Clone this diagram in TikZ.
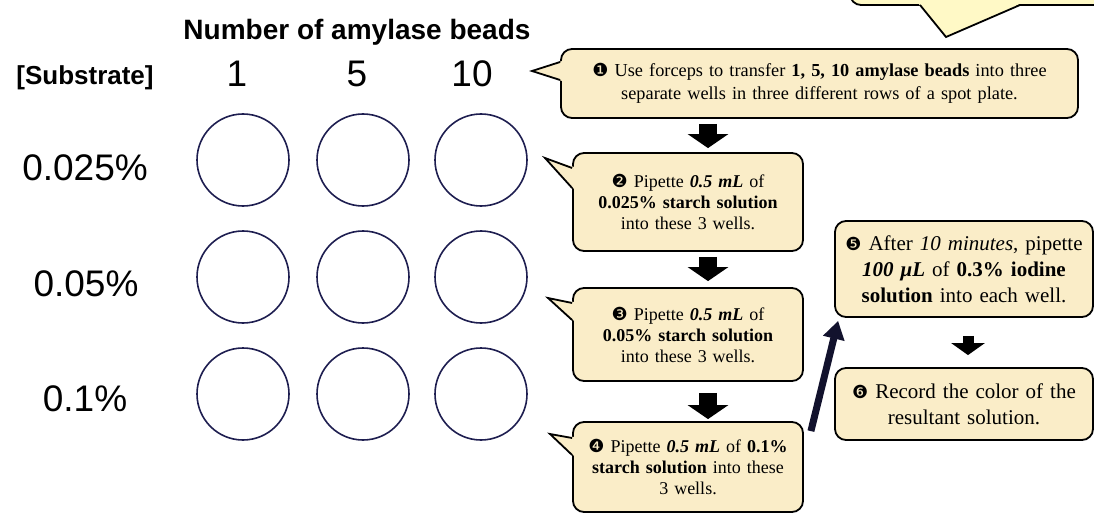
\documentclass[tikz,border=0pt]{standalone}
\usepackage{fontspec}
\setmainfont{Liberation Serif}
\newfontfamily\arialf{Liberation Sans}
\newfontfamily\djvfont{DejaVu Sans}
\usetikzlibrary{arrows.meta,calc}
\definecolor{boxfill}{RGB}{250,237,200}
\definecolor{topfill}{RGB}{255,249,198}
\definecolor{wellc}{RGB}{30,30,80}
\definecolor{navyarr}{RGB}{18,18,45}
\newcommand{\nb}[1]{{\djvfont\fontsize{18}{18}\selectfont #1}}
\tikzset{
  stepbox/.style={draw=black, line width=1.8pt, fill=boxfill, rounded corners=11pt, align=center, inner sep=0pt},
  tailline/.style={draw=black, line width=1.8pt, line join=miter},
  well/.style={circle, draw=wellc, line width=1.6pt, minimum size=92pt, inner sep=0pt},
  lbl/.style={font=\arialf\fontsize{37}{37}\selectfont, inner sep=0pt},
  blk/.style={line width=18pt, -{Triangle[width=40pt,length=14pt]}, black},
  blksmall/.style={line width=11pt, -{Triangle[width=33pt,length=12pt]}, black},
  bigarr/.style={line width=7pt, -{Triangle[width=21pt,length=18pt]}, navyarr},
}
\begin{document}
\begin{tikzpicture}[x=1pt,y=-1pt]
\useasboundingbox (0,0) rectangle (1094,513);
% left part
\node[font=\arialf\bfseries\fontsize{28}{28}\selectfont, inner sep=0pt] (title) at (357,32) {Number of amylase beads};
\node[font=\arialf\bfseries\fontsize{26}{26}\selectfont, inner sep=0pt] (subs) at (85,78) {[Substrate]};
\node[lbl] (n1) at (237,74) {1};
\node[lbl] (n5) at (357,74) {5};
\node[lbl] (n10) at (472,74) {10};
\node[lbl] (r1) at (85,168) {0.025\%};
\node[lbl] (r2) at (86,284) {0.05\%};
\node[lbl] (r3) at (85,399) {0.1\%};
\foreach \r/\y in {1/160,2/277,3/394}{
  \node[well] (w\r a) at (243,\y) {};
  \node[well] (w\r b) at (363,\y) {};
  \node[well] (w\r c) at (481,\y) {};
}
% top partial callout
\draw[line width=1.8pt, fill=topfill, rounded corners=11pt] (850,-60) rectangle (1110,5);
\fill[topfill] (918,3) -- (946,37) -- (1022,3) -- cycle;
\draw[tailline] (920,5) -- (946,37) -- (1020,5);
% boxes
\node[stepbox, minimum width=517pt, minimum height=69pt, text width=510pt,
  font=\fontsize{18.3}{23}\selectfont] (b1) at (819.5,83.5)
  {\nb{❶} Use forceps to transfer \textbf{1, 5, 10 amylase beads} into three\\ separate wells in three different rows of a spot plate.};
\node[stepbox, minimum width=230pt, minimum height=98pt, text width=224pt,
  font=\fontsize{18}{21}\selectfont] (b2) at (688,202)
  {\nb{❷} Pipette \textbf{\textit{0.5 mL}} of\\ \textbf{0.025\% starch solution}\\ into these 3 wells.};
\node[stepbox, minimum width=230pt, minimum height=93pt, text width=224pt,
  font=\fontsize{18}{21}\selectfont] (b3) at (688,334.5)
  {\nb{❸} Pipette \textbf{\textit{0.5 mL}} of\\ \textbf{0.05\% starch solution}\\ into these 3 wells.};
\node[stepbox, minimum width=230pt, minimum height=90pt, text width=224pt,
  font=\fontsize{18}{21}\selectfont] (b4) at (688,467)
  {\nb{❹} Pipette \textbf{\textit{0.5 mL}} of \textbf{0.1\%}\\ \textbf{starch solution} into these\\ 3 wells.};
\node[stepbox, minimum width=258pt, minimum height=96pt, text width=254pt,
  font=\fontsize{21}{26}\selectfont] (b5) at (964,269)
  {\nb{❺} After \textit{10 minutes}, pipette\\ \textbf{\textit{100 μL}} of \textbf{0.3\% iodine}\\ \textbf{solution} into each well.};
\node[stepbox, minimum width=258pt, minimum height=72pt, text width=254pt,
  font=\fontsize{21}{26}\selectfont] (b6) at (964,404)
  {\nb{❻} Record the color of the\\ resultant solution.};
% tails
\foreach \b/\ya/\yb/\tx/\ty in {b1/62/80/532/71, b2/168/188/545/158, b3/303/320/548/298, b4/438/455/550/434}{
  \fill[boxfill] ($(\b.west|-0,\ya)+(2,-1)$) -- (\tx,\ty) -- ($(\b.west|-0,\yb)+(2,1)$) -- cycle;
  \draw[tailline] (\b.west|-0,\ya) -- (\tx,\ty) -- (\b.west|-0,\yb);
}
% arrows
\coordinate (ax) at (708,0);
\coordinate (bx) at (968,0);
\draw[blk, shorten <=5pt, shorten >=4pt] (b1.south-|ax) -- (b2.north-|ax);
\draw[blk, shorten <=5pt, shorten >=6pt] (b2.south-|ax) -- (b3.north-|ax);
\draw[blk, shorten <=11pt, shorten >=2pt] (b3.south-|ax) -- (b4.north-|ax);
\draw[blksmall, shorten <=18pt, shorten >=12pt] (b5.south-|bx) -- (b6.north-|bx);
\draw[bigarr] ($(b4.north east)+(7,10)$) -- ($(b5.south west)+(4,3)$);
\end{tikzpicture}
\end{document}
